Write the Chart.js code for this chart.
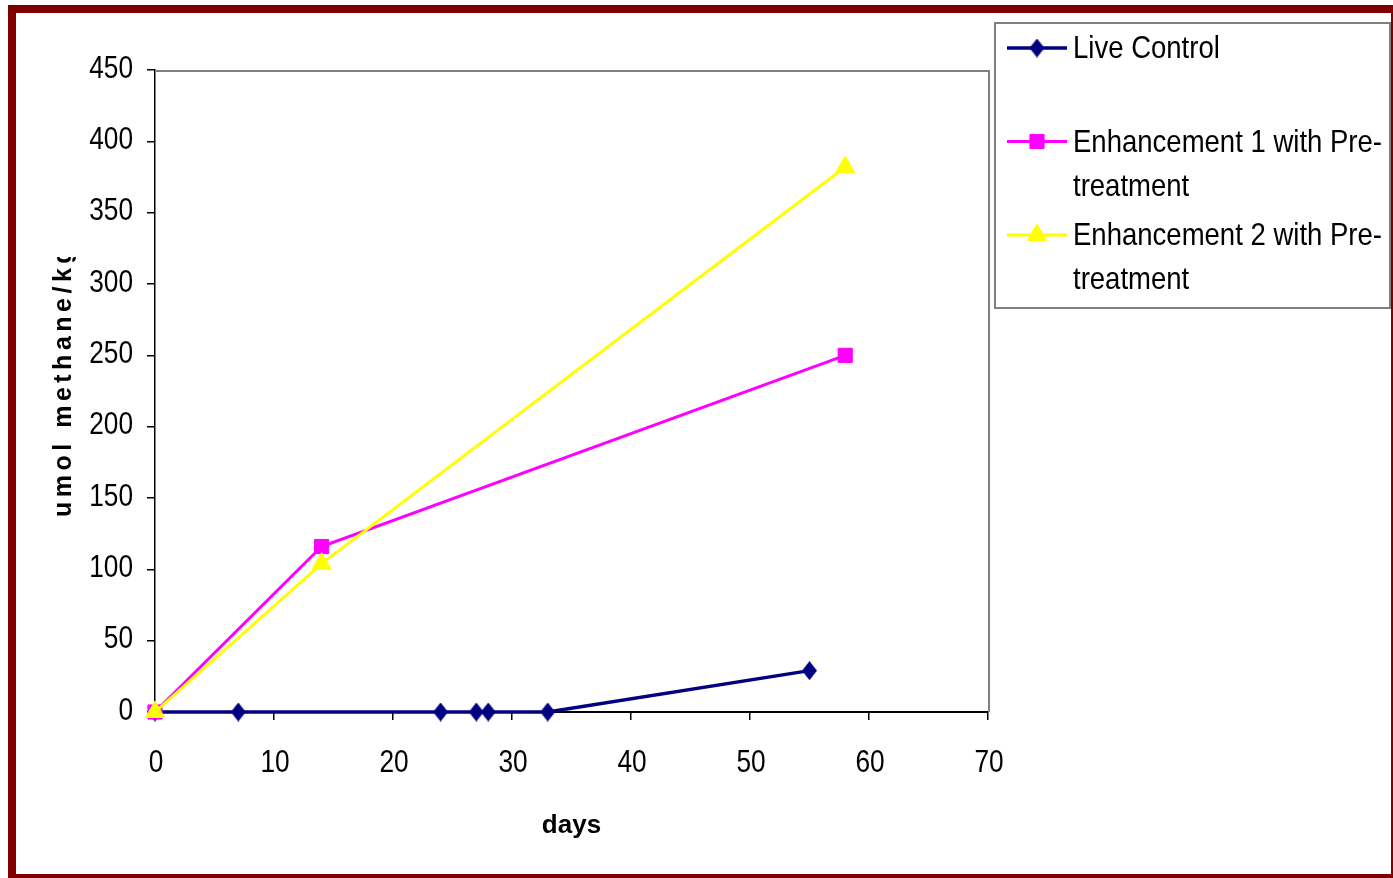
<!DOCTYPE html>
<html>
<head>
<meta charset="utf-8">
<title>umol methane per kg</title>
<script src="https://cdn.jsdelivr.net/npm/chart.js@4.4.0/dist/chart.umd.min.js"></script>
<style>
  html, body { margin: 0; padding: 0; background: #fff; }
  #wrap { position: relative; width: 1393px; height: 878px; }
</style>
</head>
<body>
<div id="wrap"><canvas id="methaneChart" width="1393" height="878"></canvas></div>
<script>
// series names (legend)
const seriesNames = ['Live Control', 'Enhancement 1 with Pre-treatment', 'Enhancement 2 with Pre-treatment'];

// days / umol methane per kg
const liveDays = [0, 7, 24, 27, 28, 33, 55];
const liveMethane = [0, 0, 0, 0, 0, 0, 29];
const enh1Days = [0, 14, 58];
const enh1Methane = [0, 116, 250];
const enh2Days = [0, 14, 58];
const enh2Methane = [0, 104, 382];

const xTitle = 'days';
const yTitle = 'umol methane/kg';

// no Arial Narrow here, so squeeze Liberation Sans by hand
const NARROW = 0.82;
const tickFont = { family: '"Liberation Sans", Arial', size: 32 };

function toPoints(xs, ys) {
    return xs.map((x, i) => ({ x: x, y: ys[i] }));
}

function narrowText(ctx, text, x, y, align, squeeze) {
    ctx.save();
    ctx.translate(x, y);
    ctx.scale(squeeze || NARROW, 1);
    ctx.textAlign = align;
    ctx.fillText(text, 0, 0);
    ctx.restore();
}

// tall excel-like diamond
function makeDiamond(color, w, h) {
    const c = document.createElement('canvas');
    c.width = w; c.height = h;
    const g = c.getContext('2d');
    g.fillStyle = color;
    g.beginPath();
    g.moveTo(w / 2, 0);
    g.lineTo(w, h / 2);
    g.lineTo(w / 2, h);
    g.lineTo(0, h / 2);
    g.closePath();
    g.fill();
    return c;
}
const diamond = makeDiamond('#000080', 15, 19);

// frame, plot border, tick labels, axis titles and the boxed legend
const decorPlugin = {
    id: 'decor',
    beforeDatasetsDraw(chart) {
        const { ctx, chartArea: a } = chart;
        ctx.save();
        ctx.strokeStyle = '#808080';
        ctx.lineWidth = 2;
        ctx.beginPath();
        ctx.moveTo(a.left, a.top + 1);
        ctx.lineTo(a.right + 1, a.top + 1);
        ctx.lineTo(a.right + 1, a.bottom);
        ctx.stroke();
        ctx.restore();
    },
    afterDraw(chart) {
        const { ctx, chartArea: a } = chart;
        const xs = chart.scales.x, ys = chart.scales.y;
        ctx.save();

        // maroon outer frame
        ctx.fillStyle = '#800000';
        ctx.fillRect(8, 5, 1385, 8);
        ctx.fillRect(8, 5, 8, 873);
        ctx.fillRect(1391, 5, 2, 873);
        ctx.fillRect(8, 874, 1385, 4);

        // tick labels in narrow type, placed by the scales
        ctx.fillStyle = '#000';
        ctx.font = '32px "Liberation Sans", Arial';
        ctx.textBaseline = 'middle';
        ys.ticks.forEach(t => narrowText(ctx, String(t.value), 133, ys.getPixelForValue(t.value) - 1, 'right'));
        xs.ticks.forEach(t => narrowText(ctx, String(t.value), xs.getPixelForValue(t.value) + 1, 763, 'center'));

        // x title
        ctx.textBaseline = 'alphabetic';
        ctx.font = 'bold 26px "Liberation Sans", Arial';
        ctx.textAlign = 'center';
        ctx.fillText(xTitle, (a.left + a.right) / 2, 833);

        // y title, cut off at the top like the original
        ctx.save();
        ctx.beginPath();
        ctx.rect(20, 257, 120, 600);
        ctx.clip();
        ctx.translate(71, 517);
        ctx.rotate(-Math.PI / 2);
        ctx.font = 'bold 25px "Liberation Sans", Arial';
        ctx.letterSpacing = '4.5px';
        ctx.textAlign = 'left';
        ctx.fillText(yTitle, 0, 0);
        ctx.restore();

        // legend box
        ctx.strokeStyle = '#808080';
        ctx.lineWidth = 2;
        ctx.strokeRect(995, 23, 395, 285);
        ctx.font = '32px "Liberation Sans", Arial';
        ctx.textBaseline = 'alphabetic';
        chart.data.datasets.forEach((ds, i) => {
            const base = 58 + i * 93.5;
            const name = ds.label;
            const cut = name.indexOf('-');
            const lines = cut >= 0 ? [name.slice(0, cut + 1), name.slice(cut + 1)] : [name];
            const ly = base - 10;
            ctx.strokeStyle = ds.borderColor;
            ctx.lineWidth = ds.borderWidth;
            ctx.beginPath();
            ctx.moveTo(1007, ly);
            ctx.lineTo(1067, ly);
            ctx.stroke();
            ctx.fillStyle = ds.pointBackgroundColor;
            ctx.strokeStyle = ds.pointBorderColor;
            ctx.lineWidth = 1;
            Chart.helpers.drawPoint(ctx, { pointStyle: ds.pointStyle, radius: ds.pointRadius, rotation: 0, borderWidth: 1 }, 1037, ly);
            ctx.fillStyle = '#000';
            lines.forEach((t, j) => narrowText(ctx, t, 1073, base + j * 44, 'left', 0.86));
        });
        ctx.restore();
    }
};

const data = {
    datasets: [{
        label: seriesNames[0],
        data: toPoints(liveDays, liveMethane),
        borderColor: '#000080',
        borderWidth: 3.5,
        pointStyle: diamond,
        pointRadius: 9,
        pointBackgroundColor: '#000080',
        pointBorderColor: '#000080',
        pointBorderWidth: 1,
        order: 2
    }, {
        label: seriesNames[1],
        data: toPoints(enh1Days, enh1Methane),
        borderColor: '#FF00FF',
        borderWidth: 3,
        pointStyle: 'rect',
        pointRadius: 10,
        pointBackgroundColor: '#FF00FF',
        pointBorderColor: '#FF00FF',
        pointBorderWidth: 1,
        order: 1
    }, {
        label: seriesNames[2],
        data: toPoints(enh2Days, enh2Methane),
        borderColor: '#FFFF00',
        borderWidth: 3,
        pointStyle: 'triangle',
        pointRadius: 11,
        pointBackgroundColor: '#FFFF00',
        pointBorderColor: '#FFFF00',
        pointBorderWidth: 1,
        order: 0
    }]
};

const options = {
    responsive: false,
    animation: false,
    clip: false,
    layout: { padding: { left: 0, top: 70, right: 405, bottom: 0 } },
    plugins: {
        legend: { display: false },
        tooltip: { enabled: false }
    },
    elements: { line: { tension: 0, fill: false } },
    scales: {
        x: {
            type: 'linear',
            min: 0,
            max: 70,
            afterFit: s => { s.height = 166; },
            ticks: { stepSize: 10, color: 'rgba(0,0,0,0)', font: tickFont, padding: 22, maxRotation: 0 },
            grid: { drawOnChartArea: false, drawTicks: true, tickLength: 8, color: '#000', lineWidth: 1.5 },
            border: { color: '#000', width: 2 }
        },
        y: {
            min: 0,
            max: 450,
            afterFit: s => { s.width = 155; },
            ticks: { stepSize: 50, color: 'rgba(0,0,0,0)', font: tickFont, padding: 14 },
            grid: { drawOnChartArea: false, drawTicks: true, tickLength: 8, color: '#000', lineWidth: 1.5 },
            border: { color: '#000', width: 1.5 }
        }
    }
};

new Chart('methaneChart', { type: 'line', data, options, plugins: [decorPlugin] });
</script>
</body>
</html>
